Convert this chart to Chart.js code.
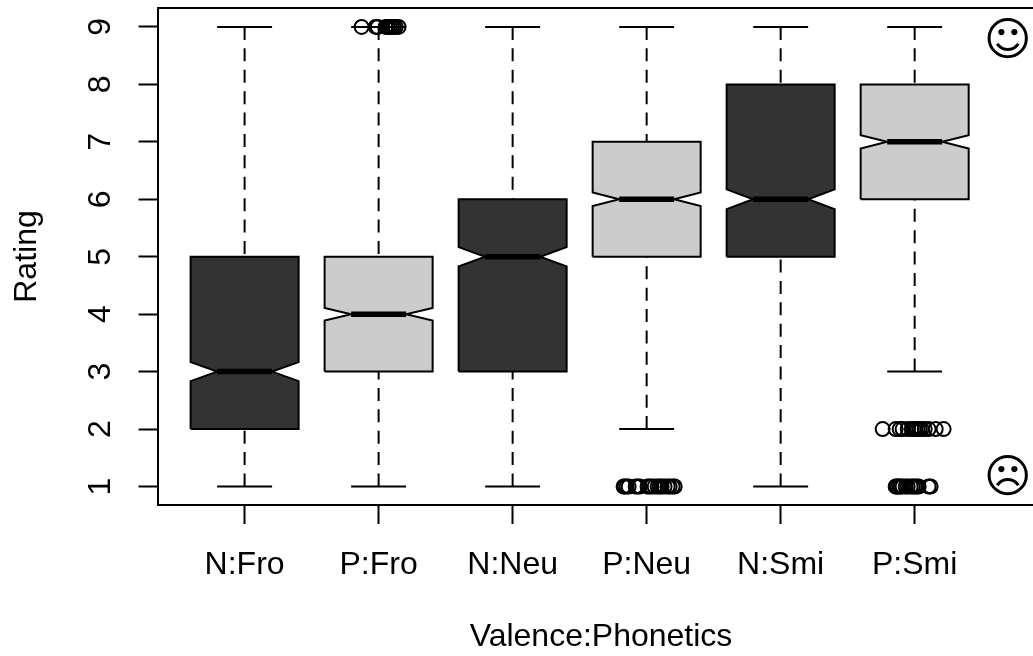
<!DOCTYPE html>
<html>
<head>
<meta charset="utf-8">
<title>Rating by Valence:Phonetics</title>
<script src="https://cdn.jsdelivr.net/npm/chart.js@4"></script>
<style>
  html, body { margin: 0; padding: 0; background: #fff; }
  canvas { display: block; }
</style>
</head>
<body>
<canvas id="grafico" width="1033" height="656"></canvas>
<script>
// Categorias e estatisticas de cada caixa
var categories = ['N:Fro', 'P:Fro', 'N:Neu', 'P:Neu', 'N:Smi', 'P:Smi'];
var whiskerLow = [1, 1, 1, 2, 1, 3];
var q1 = [2, 3, 3, 5, 5, 6];
var notchLow = [2.835, 3.89, 4.832, 5.883, 5.828, 6.884];
var medians = [3, 4, 5, 6, 6, 7];
var notchHigh = [3.165, 4.11, 5.168, 6.117, 6.172, 7.116];
var q3 = [5, 5, 6, 7, 8, 8];
var whiskerHigh = [9, 9, 9, 9, 9, 9];
var boxColors = ['#333333', '#cccccc', '#333333', '#cccccc', '#333333', '#cccccc'];
var yTicks = [1, 2, 3, 4, 5, 6, 7, 8, 9];

var outlierPFro9 = [1.873, 1.978, 1.993, 2.052, 2.067, 2.082, 2.097, 2.112, 2.127, 2.149];
var outlierPNeu1 = [3.828, 3.836, 3.851, 3.866, 3.918, 3.933, 3.948, 4.007, 4.022, 4.037, 4.06, 4.082, 4.097, 4.112, 4.134, 4.157, 4.172, 4.194, 4.209];
var outlierPSmi2 = [5.761, 5.858, 5.888, 5.91, 5.948, 5.978, 5.993, 6.007, 6.022, 6.037, 6.052, 6.075, 6.104, 6.157, 6.216];
var outlierPSmi1 = [5.858, 5.866, 5.873, 5.888, 5.896, 5.91, 5.933, 5.948, 5.97, 5.985, 6.0, 6.015, 6.03, 6.104, 6.119];

var boxHalf = 0.403;
var notchHalf = 0.205;
var xMin = 0.35;
var xMax = 6.883;
var yMin = 0.678;
var yMax = 9.33;

var datasets = [];

function addLine(pontos, opcoes) {
  datasets.push(Object.assign({
    type: 'scatter',
    data: pontos,
    showLine: true,
    pointRadius: 0,
    borderColor: '#000',
    borderWidth: 2,
    fill: false
  }, opcoes));
}

categories.forEach(function (nome, i) {
  var x = i + 1;
  // medianas primeiro ficam por cima
  addLine([{ x: x - notchHalf, y: medians[i] }, { x: x + notchHalf, y: medians[i] }], { borderWidth: 5.5, order: 1 });
  // caixa com entalhe
  addLine([
    { x: x - boxHalf, y: q1[i] },
    { x: x + boxHalf, y: q1[i] },
    { x: x + boxHalf, y: notchLow[i] },
    { x: x + notchHalf, y: medians[i] },
    { x: x + boxHalf, y: notchHigh[i] },
    { x: x + boxHalf, y: q3[i] },
    { x: x - boxHalf, y: q3[i] },
    { x: x - boxHalf, y: notchHigh[i] },
    { x: x - notchHalf, y: medians[i] },
    { x: x - boxHalf, y: notchLow[i] },
    { x: x - boxHalf, y: q1[i] }
  ], { fill: 'shape', backgroundColor: boxColors[i], order: 2, borderJoinStyle: 'miter' });
  // bigodes tracejados (da ponta para a caixa) e barras das pontas
  addLine([{ x: x, y: whiskerHigh[i] }, { x: x, y: q3[i] }], { borderDash: [13, 8.4], order: 3 });
  addLine([{ x: x, y: whiskerLow[i] }, { x: x, y: q1[i] }], { borderDash: [13, 8.4], order: 3 });
  addLine([{ x: x - notchHalf, y: whiskerHigh[i] }, { x: x + notchHalf, y: whiskerHigh[i] }], { order: 3 });
  addLine([{ x: x - notchHalf, y: whiskerLow[i] }, { x: x + notchHalf, y: whiskerLow[i] }], { order: 3 });
});

function addOutliers(valores, nota) {
  datasets.push({
    type: 'scatter',
    data: valores.map(function (v) { return { x: v, y: nota }; }),
    pointRadius: 7,
    pointBorderWidth: 2,
    pointBorderColor: '#000',
    pointBackgroundColor: 'rgba(0,0,0,0)',
    order: 0
  });
}
addOutliers(outlierPFro9, 9);
addOutliers(outlierPNeu1, 1);
addOutliers(outlierPSmi2, 2);
addOutliers(outlierPSmi1, 1);

var fonte = { family: '"Liberation Sans"', size: 32 };

// Linha superior da moldura, titulo do eixo x e os dois rostos
var molduraPlugin = {
  id: 'moldura',
  afterDraw: function (chart) {
    var c = chart.ctx, a = chart.chartArea;
    var sx = chart.scales.x, sy = chart.scales.y;
    c.save();
    c.strokeStyle = '#000';
    c.lineWidth = 2;
    c.beginPath();
    c.moveTo(a.left, a.top);
    c.lineTo(a.right, a.top);
    c.stroke();
    c.fillStyle = '#000';
    c.textAlign = 'center';
    c.textBaseline = 'middle';
    c.font = '32px "Liberation Sans"';
    c.fillText('Valence:Phonetics', 601, 637);
    c.font = '46px "DejaVu Sans"';
    c.fillText('\u263A', sx.getPixelForValue(6.695), sy.getPixelForValue(8.72));
    c.fillText('\u2639', sx.getPixelForValue(6.695), sy.getPixelForValue(1.115));
    c.restore();
  }
};

var ctx = document.getElementById('grafico').getContext('2d');

new Chart(ctx, {
  data: { datasets: datasets },
  plugins: [molduraPlugin],
  options: {
    responsive: false,
    animation: false,
    layout: { autoPadding: false, padding: { top: 8, left: 0, right: 0, bottom: 0 } },
    plugins: { legend: { display: false }, tooltip: { enabled: false }, title: { display: false } },
    scales: {
      x: {
        type: 'linear',
        min: xMin,
        max: xMax,
        afterFit: function (s) { s.height = 151; s.paddingLeft = 0; s.paddingRight = 0; },
        afterBuildTicks: function (s) {
          s.ticks = categories.map(function (n, i) { return { value: i + 1 }; });
        },
        ticks: {
          color: '#000',
          font: fonte,
          padding: 22,
          maxRotation: 0,
          autoSkip: false,
          callback: function (v) { return categories[v - 1]; }
        },
        grid: { drawOnChartArea: false, drawTicks: true, tickLength: 19, tickColor: '#000', tickWidth: 2 },
        border: { display: true, color: '#000', width: 2 },
        title: { display: false }
      },
      y: {
        type: 'linear',
        min: yMin,
        max: yMax,
        afterFit: function (s) { s.width = 157.5; s.paddingTop = 0; s.paddingBottom = 0; },
        afterBuildTicks: function (s) {
          s.ticks = yTicks.map(function (v) { return { value: v }; });
        },
        ticks: {
          color: '#000',
          font: fonte,
          padding: 28,
          minRotation: 90,
          maxRotation: 90,
          crossAlign: 'center',
          autoSkip: false
        },
        grid: { drawOnChartArea: false, drawTicks: true, tickLength: 19, tickColor: '#000', tickWidth: 2 },
        border: { display: true, color: '#000', width: 2 },
        title: { display: true, text: 'Rating', color: '#000', font: fonte, padding: { top: 8, bottom: 0 } }
      }
    }
  }
});
</script>
</body>
</html>
